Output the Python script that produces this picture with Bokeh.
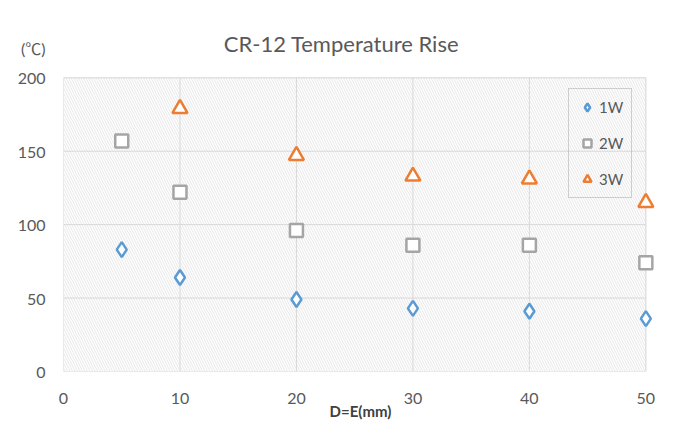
from bokeh.plotting import figure
from bokeh.models import Range1d, FixedTicker, BoxAnnotation, Label, Legend, LegendItem
from bokeh.embed import file_html
from bokeh.resources import INLINE

# ---- data ----
x_1w = [5, 10, 20, 30, 40, 50]
y_1w = [83, 64, 49, 43, 41, 36]
x_2w = [5, 10, 20, 30, 40, 50]
y_2w = [157, 122, 96, 86, 86, 74]
x_3w = [10, 20, 30, 40, 50]
y_3w = [179, 147, 133, 131, 115]
series_names = ["1W", "2W", "3W"]
x_ticks = [0, 10, 20, 30, 40, 50]
y_ticks = [0, 50, 100, 150, 200]
y_unit_tick = 220
y_unit_text = "(℃)"
title_text = "CR-12 Temperature Rise"
x_title = "D=E(mm)"
x_min, x_max = 0, 50
y_min, y_max = 0, 200

FONT = "Lato"
TXT = "#595959"
GRID = "#d9d9d9"

p = figure(width=700, height=430, output_backend="svg", toolbar_location=None,
           x_range=Range1d(x_min, 51), y_range=Range1d(y_min, 239),
           min_border_left=63, min_border_right=43, min_border_top=20, min_border_bottom=59)

p.background_fill_color = "white"
p.border_fill_color = "white"
p.outline_line_color = None
p.xgrid.visible = False
p.ygrid.visible = False

hatch = BoxAnnotation(left=x_min, right=x_max, bottom=y_min, top=y_max,
                      fill_alpha=0, line_color=GRID, line_width=1,
                      hatch_pattern="\\", hatch_scale=5,
                      hatch_weight=0.6, hatch_color="#d6d6d6", level="underlay")
p.add_layout(hatch)

# grid lines limited to the plot area (0..50, 0..200)
p.segment(x0=x_ticks, y0=[y_min] * len(x_ticks), x1=x_ticks, y1=[y_max] * len(x_ticks),
          line_color=GRID, line_width=1, level="underlay")
p.segment(x0=[x_min] * len(y_ticks), y0=y_ticks, x1=[x_max] * len(y_ticks), y1=y_ticks,
          line_color=GRID, line_width=1, level="underlay")

p.xaxis.ticker = FixedTicker(ticks=x_ticks)
p.yaxis.ticker = FixedTicker(ticks=y_ticks + [y_unit_tick])
p.yaxis.major_label_overrides = {y_unit_tick: y_unit_text}
for ax in (p.xaxis[0], p.yaxis[0]):
    ax.axis_line_color = None
    ax.major_tick_line_color = None
    ax.minor_tick_line_color = None
    ax.major_label_text_font = FONT
    ax.major_label_text_font_size = "16px"
    ax.major_label_text_color = TXT
p.yaxis.major_label_text_font = "Lato, 'Noto Sans CJK JP'"
p.xaxis.major_label_standoff = 15
p.yaxis.major_label_standoff = 12
p.xaxis.axis_label = x_title
p.xaxis.axis_label_text_font = FONT
p.xaxis.axis_label_text_font_size = "15px"
p.xaxis.axis_label_text_font_style = "bold"
p.xaxis.axis_label_text_color = "#404040"
p.xaxis.axis_label_standoff = -5

r1 = p.scatter(x_1w, y_1w, marker="diamond", size=15,
               line_color="#5b9bd5", line_width=2.5, fill_color="white")
r2 = p.scatter(x_2w, y_2w, marker="square", size=13,
               line_color="#a5a5a5", line_width=2.5, fill_color="white")
r3 = p.scatter(x_3w, y_3w, marker="triangle", size=15,
               line_color="#ed7d31", line_width=2.5, fill_color="white")

legend = Legend(items=[LegendItem(label=series_names[0], renderers=[r1]),
                       LegendItem(label=series_names[1], renderers=[r2]),
                       LegendItem(label=series_names[2], renderers=[r3])],
                location=(505, 173), orientation="vertical",
                border_line_color="#a6a6a6", border_line_width=1,
                background_fill_alpha=0, label_text_font=FONT,
                label_text_font_size="15px", label_text_color=TXT,
                glyph_width=20, glyph_height=20, spacing=16, padding=8,
                margin=0, label_standoff=2)
p.add_layout(legend)

title = Label(x=278, y=328, x_units="screen", y_units="screen", text=title_text,
              text_font=FONT, text_font_size="22px", text_color=TXT,
              text_baseline="middle", text_align="center")
p.add_layout(title)

open("out.html", "w").write(file_html(p, INLINE))
